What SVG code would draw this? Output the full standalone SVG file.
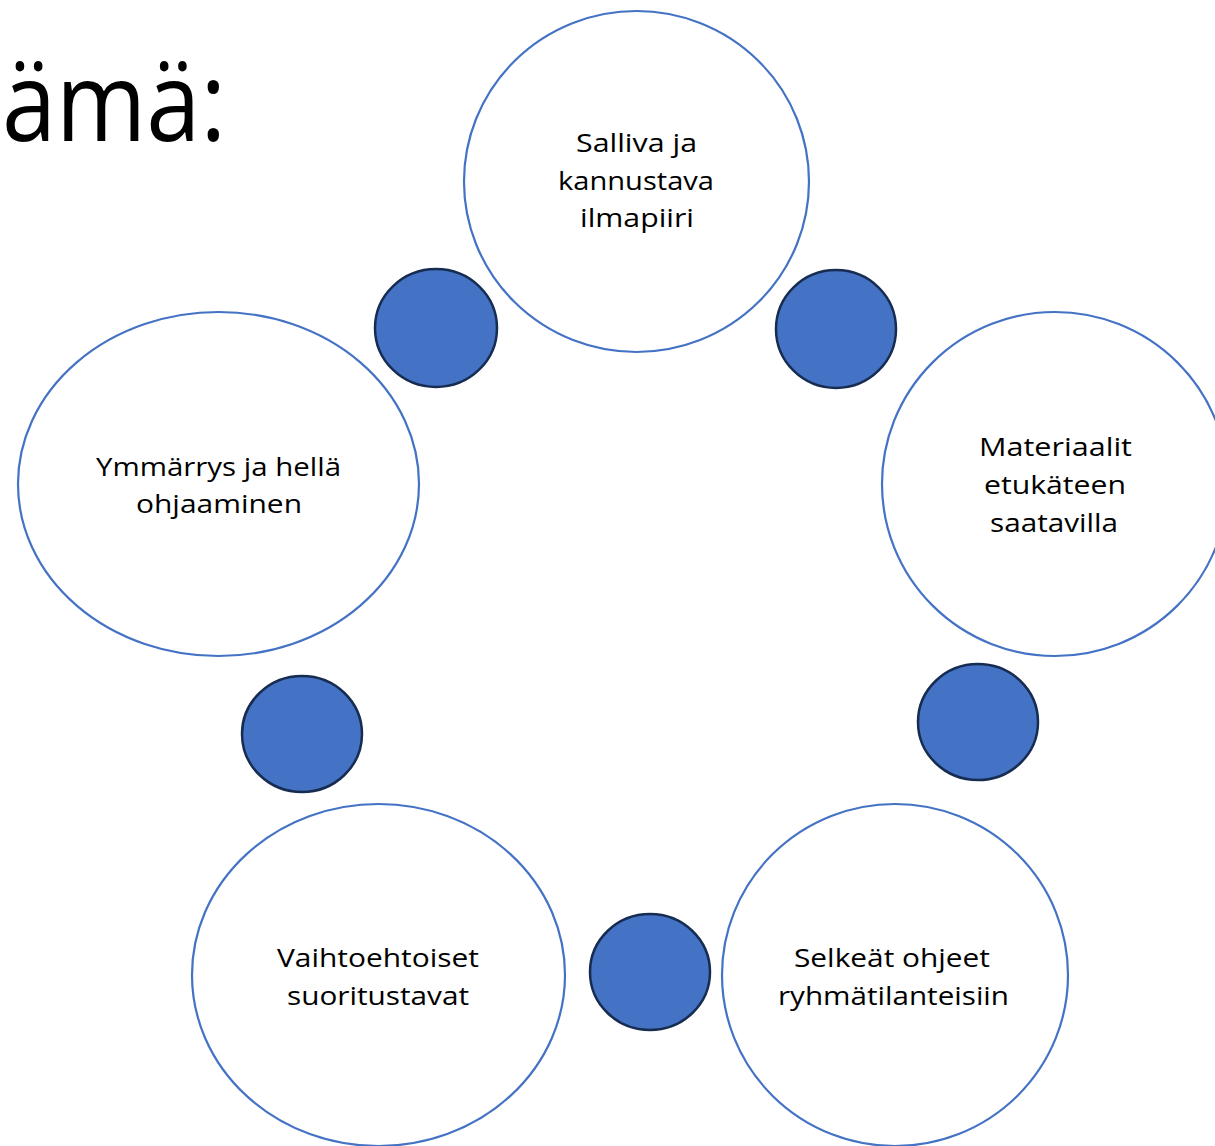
<svg xmlns="http://www.w3.org/2000/svg" width="1215" height="1146" viewBox="0 0 1215 1146">
<style>
.big{fill:#fff;stroke:#4472C4;stroke-width:2.2}
.dot{fill:#4472C4;stroke:#172C51;stroke-width:2.5}
.t{font-family:"Open Sans","Liberation Sans",sans-serif;font-size:26px;fill:#000;text-anchor:middle}
.title{font-family:"Open Sans","Liberation Sans",sans-serif;font-size:110px;fill:#000}
</style>
<rect width="1215" height="1146" fill="#fff"/>
<text class="title" x="2" y="141" textLength="224" lengthAdjust="spacingAndGlyphs">ämä:</text>
<g id="connectors">
<ellipse id="dot1" class="dot" cx="436" cy="328" rx="61" ry="59"/>
<ellipse id="dot2" class="dot" cx="836" cy="329" rx="60" ry="59"/>
<ellipse id="dot3" class="dot" cx="978" cy="722" rx="60" ry="58"/>
<ellipse id="dot4" class="dot" cx="650" cy="972" rx="60" ry="58"/>
<ellipse id="dot5" class="dot" cx="302" cy="734" rx="60" ry="58"/>
</g>
<g id="n1">
<ellipse class="big" cx="636.5" cy="181.5" rx="172.5" ry="170.5"/>
<text class="t" x="636.5" y="152" textLength="121" lengthAdjust="spacingAndGlyphs">Salliva ja</text>
<text class="t" x="636" y="190" textLength="156" lengthAdjust="spacingAndGlyphs">kannustava</text>
<text class="t" x="637" y="227" textLength="114" lengthAdjust="spacingAndGlyphs">ilmapiiri</text>
</g>
<g id="n2">
<ellipse class="big" cx="1055" cy="484" rx="173" ry="172"/>
<text class="t" x="1055.5" y="456" textLength="153" lengthAdjust="spacingAndGlyphs">Materiaalit</text>
<text class="t" x="1055" y="494" textLength="142" lengthAdjust="spacingAndGlyphs">etukäteen</text>
<text class="t" x="1054" y="532" textLength="128" lengthAdjust="spacingAndGlyphs">saatavilla</text>
</g>
<g id="n3">
<ellipse class="big" cx="895" cy="975" rx="173" ry="171"/>
<text class="t" x="892" y="967" textLength="196" lengthAdjust="spacingAndGlyphs">Selkeät ohjeet</text>
<text class="t" x="893.5" y="1005" textLength="231" lengthAdjust="spacingAndGlyphs">ryhmätilanteisiin</text>
</g>
<g id="n4">
<ellipse class="big" cx="378.5" cy="975" rx="186.5" ry="171"/>
<text class="t" x="378" y="967" textLength="202" lengthAdjust="spacingAndGlyphs">Vaihtoehtoiset</text>
<text class="t" x="378" y="1005" textLength="182" lengthAdjust="spacingAndGlyphs">suoritustavat</text>
</g>
<g id="n5">
<ellipse class="big" cx="218.5" cy="484" rx="200.5" ry="172"/>
<text class="t" x="218.5" y="476" textLength="245" lengthAdjust="spacingAndGlyphs">Ymmärrys ja hellä</text>
<text class="t" x="219" y="513" textLength="166" lengthAdjust="spacingAndGlyphs">ohjaaminen</text>
</g>
</svg>
